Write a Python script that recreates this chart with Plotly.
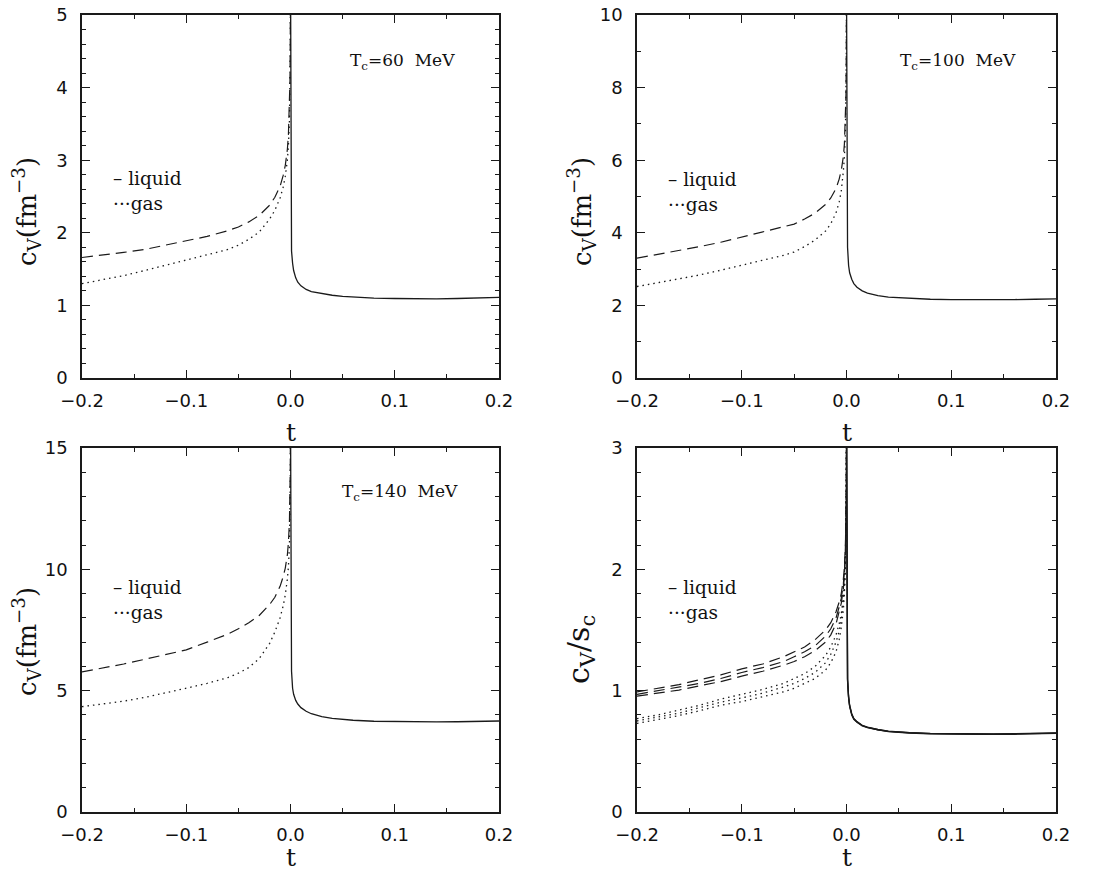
import plotly.graph_objects as go
from plotly.subplots import make_subplots

# reduced temperature grids (below and above T_c)
T_BELOW = [-0.2, -0.18, -0.16, -0.14, -0.12, -0.1, -0.08, -0.06, -0.05, -0.04, -0.03,
           -0.02, -0.015, -0.01, -0.007, -0.005, -0.003, -0.002, -0.001, -0.0005,
           -0.0002, -0.00005]
T_ABOVE = [0.00005, 0.0002, 0.0005, 0.001, 0.002, 0.003, 0.005, 0.007, 0.01, 0.015,
           0.02, 0.03, 0.04, 0.05, 0.06, 0.08, 0.1, 0.12, 0.14, 0.16, 0.18, 0.2]

# T_c = 60 MeV
LIQ_60 = [1.66, 1.69, 1.73, 1.77, 1.83, 1.89, 1.95, 2.03, 2.08, 2.15, 2.24,
          2.38, 2.49, 2.64, 2.79, 2.93, 3.15, 3.35, 3.7, 4.1, 4.7, 5.6]
GAS_60 = [1.30, 1.35, 1.41, 1.48, 1.55, 1.62, 1.69, 1.77, 1.83, 1.91, 2.01,
          2.19, 2.31, 2.48, 2.63, 2.78, 3.0, 3.2, 3.55, 3.95, 4.6, 5.5]
HOT_60 = [5.5, 3.2, 2.3, 1.75, 1.58, 1.48, 1.38, 1.32, 1.27, 1.22,
          1.19, 1.16, 1.14, 1.125, 1.115, 1.10, 1.095, 1.09, 1.09, 1.095, 1.10, 1.11]

# T_c = 100 MeV
LIQ_100 = [3.30, 3.40, 3.51, 3.62, 3.74, 3.88, 4.02, 4.16, 4.24, 4.38, 4.54,
           4.78, 4.96, 5.22, 5.48, 5.72, 6.1, 6.45, 7.1, 7.8, 8.9, 10.5]
GAS_100 = [2.52, 2.62, 2.72, 2.84, 2.97, 3.10, 3.25, 3.38, 3.47, 3.62, 3.80,
           4.05, 4.25, 4.55, 4.85, 5.15, 5.7, 6.1, 6.8, 7.6, 8.8, 10.5]
HOT_100 = [10.5, 6.5, 4.6, 3.6, 3.1, 2.9, 2.72, 2.6, 2.5, 2.4,
           2.34, 2.27, 2.23, 2.21, 2.19, 2.17, 2.16, 2.155, 2.155, 2.16, 2.17, 2.18]

# T_c = 140 MeV
LIQ_140 = [5.77, 5.93, 6.10, 6.29, 6.48, 6.68, 7.0, 7.33, 7.55, 7.80, 8.1,
           8.55, 8.85, 9.3, 9.7, 10.05, 10.6, 11.1, 12.0, 12.9, 14.2, 16.0]
GAS_140 = [4.34, 4.45, 4.57, 4.72, 4.90, 5.10, 5.30, 5.54, 5.72, 5.95, 6.32,
           6.95, 7.42, 8.0, 8.5, 8.95, 9.6, 10.1, 11.0, 12.0, 13.6, 16.0]
HOT_140 = [16.0, 10.0, 7.0, 5.8, 5.1, 4.85, 4.6, 4.45, 4.3, 4.15,
           4.05, 3.93, 3.86, 3.81, 3.78, 3.74, 3.72, 3.71, 3.71, 3.72, 3.73, 3.75]

# scaled by the entropy density at T_c, one curve per T_c
LIQ_SCALED = [
    [0.99, 1.02, 1.05, 1.09, 1.13, 1.18, 1.22, 1.28, 1.32, 1.36, 1.42,
     1.50, 1.56, 1.65, 1.73, 1.80, 1.92, 2.02, 2.2, 2.4, 2.7, 3.2],
    [0.97, 1.0, 1.03, 1.06, 1.10, 1.15, 1.19, 1.24, 1.28, 1.32, 1.37,
     1.45, 1.51, 1.60, 1.69, 1.76, 1.88, 1.98, 2.17, 2.37, 2.68, 3.2],
    [0.955, 0.98, 1.005, 1.04, 1.075, 1.12, 1.16, 1.21, 1.24, 1.28, 1.33,
     1.40, 1.46, 1.55, 1.64, 1.72, 1.84, 1.95, 2.14, 2.34, 2.65, 3.2],
]
GAS_SCALED = [
    [0.77, 0.80, 0.84, 0.88, 0.93, 0.97, 1.01, 1.06, 1.10, 1.14, 1.20,
     1.29, 1.36, 1.46, 1.55, 1.63, 1.77, 1.88, 2.08, 2.3, 2.65, 3.2],
    [0.75, 0.78, 0.815, 0.86, 0.905, 0.94, 0.98, 1.03, 1.06, 1.10, 1.15,
     1.23, 1.30, 1.40, 1.49, 1.58, 1.72, 1.84, 2.05, 2.28, 2.62, 3.2],
    [0.73, 0.76, 0.795, 0.835, 0.88, 0.91, 0.95, 0.99, 1.02, 1.06, 1.10,
     1.17, 1.23, 1.32, 1.42, 1.52, 1.67, 1.80, 2.02, 2.25, 2.6, 3.2],
]
HOT_SCALED = [
    [3.2, 1.9, 1.35, 1.1, 0.95, 0.88, 0.81, 0.77, 0.745, 0.715,
     0.70, 0.68, 0.667, 0.66, 0.655, 0.648, 0.645, 0.643, 0.643, 0.645, 0.648, 0.652],
    [3.2, 1.88, 1.34, 1.09, 0.945, 0.875, 0.805, 0.767, 0.742, 0.713,
     0.698, 0.678, 0.665, 0.658, 0.653, 0.646, 0.643, 0.641, 0.641, 0.643, 0.646, 0.650],
    [3.2, 1.86, 1.33, 1.08, 0.94, 0.87, 0.80, 0.764, 0.74, 0.71,
     0.696, 0.676, 0.663, 0.656, 0.651, 0.644, 0.641, 0.639, 0.639, 0.641, 0.644, 0.648],
]

PANELS = [
    # (row, col, liquid list, gas list, above-Tc list, y max, major, minor)
    (1, 1, [LIQ_60], [GAS_60], [HOT_60], 5, 1, 0.2),
    (1, 2, [LIQ_100], [GAS_100], [HOT_100], 10, 2, 1),
    (2, 1, [LIQ_140], [GAS_140], [HOT_140], 15, 5, 1),
    (2, 2, LIQ_SCALED, GAS_SCALED, HOT_SCALED, 3, 1, 0.2),
]

W, H = 1108, 873
INK = "#1a1a1a"
SERIF = "DejaVu Serif"
SANS = "DejaVu Sans"

X_DOM = {1: (82 / W, 499 / W), 2: (637 / W, 1056 / W)}
Y_DOM = {1: (1 - 378 / H, 1 - 15 / H), 2: (1 - 812 / H, 1 - 448 / H)}

fig = make_subplots(rows=2, cols=2)

for row, col, liqs, gases, hots, ymax, major, minor in PANELS:
    for ys in liqs:
        fig.add_trace(go.Scatter(x=T_BELOW, y=ys, mode="lines",
                                 line=dict(color=INK, width=1.2, dash="11px,6px")),
                      row=row, col=col)
    for ys in gases:
        fig.add_trace(go.Scatter(x=T_BELOW, y=ys, mode="lines",
                                 line=dict(color=INK, width=1.3, dash="1.5px,4px")),
                      row=row, col=col)
    for ys in hots:
        fig.add_trace(go.Scatter(x=T_ABOVE, y=ys, mode="lines",
                                 line=dict(color=INK, width=1.3)),
                      row=row, col=col)

    common = dict(showline=True, linecolor=INK, linewidth=1.5, mirror="allticks",
                  ticks="inside", ticklen=8, tickwidth=1.2, tickcolor=INK,
                  showgrid=False, zeroline=False, automargin=False,
                  tickfont=dict(family=SANS, size=18, color="#111"))
    fig.update_xaxes(range=[-0.2, 0.2], dtick=0.1, tick0=-0.2, tickformat=".1f",
                     minor=dict(dtick=0.05, ticks="inside", ticklen=4,
                                tickcolor=INK, tickwidth=1.2, showgrid=False),
                     domain=X_DOM[col], ticklabelstandoff=6,
                     row=row, col=col, **common)
    fig.update_yaxes(range=[0, ymax], dtick=major, tick0=0,
                     minor=dict(dtick=minor, ticks="inside", ticklen=4,
                                tickcolor=INK, tickwidth=1.2, showgrid=False),
                     domain=Y_DOM[row], ticklabelstandoff=9,
                     row=row, col=col, **common)


def px(x, y):
    return x / W, 1 - y / H


annotations = []
GAP = "\u00a0\u00a0"

# temperature labels
for (x, y), label in [((348, 62), f"T<sub>c</sub>=60{GAP}MeV"),
                      ((898, 62), f"T<sub>c</sub>=100{GAP}MeV"),
                      ((340, 492), f"T<sub>c</sub>=140{GAP}MeV")]:
    ax, ay = px(x, y)
    annotations.append(dict(x=ax, y=ay, xref="paper", yref="paper", text=label,
                            showarrow=False, xanchor="left", yanchor="middle",
                            font=dict(family=SERIF, size=17, color="#111")))

# line-style keys
for (x, y1, y2) in [(111, 179, 203), (666, 180, 204), (111, 587, 612), (666, 587, 612)]:
    for yy, txt in [(y1, "– liquid"), (y2, "···gas")]:
        ax, ay = px(x, yy)
        annotations.append(dict(x=ax, y=ay, xref="paper", yref="paper", text=txt,
                                showarrow=False, xanchor="left", yanchor="middle",
                                font=dict(family=SERIF, size=18.5, color="#111")))

# horizontal axis titles
for cx in (290.5, 846.5):
    ax, ay = px(cx, 432)
    annotations.append(dict(x=ax, y=ay, xref="paper", yref="paper", text="t",
                            showarrow=False, xanchor="center", yanchor="middle",
                            font=dict(family=SERIF, size=25, color="#111")))
    annotations.append(dict(x=ax, y=0, xref="paper", yref="paper", text="t",
                            showarrow=False, xanchor="center", yanchor="bottom",
                            borderpad=0,
                            font=dict(family=SERIF, size=25, color="#111")))

# vertical axis titles
for (cx, cy), txt, size in [((26, 212), "c<sub>V</sub>(fm<sup>−3</sup>)", 26),
                            ((581, 212), "c<sub>V</sub>(fm<sup>−3</sup>)", 26),
                            ((26, 642), "c<sub>V</sub>(fm<sup>−3</sup>)", 26),
                            ((580, 650), "c<sub>V</sub>/s<sub>c</sub>", 30)]:
    ax, ay = px(cx, cy)
    annotations.append(dict(x=ax, y=ay, xref="paper", yref="paper", text=txt,
                            showarrow=False, xanchor="center", yanchor="middle",
                            textangle=-90,
                            font=dict(family=SERIF, size=size, color="#111")))

fig.update_layout(template="none", width=W, height=H,
                  margin=dict(l=0, r=0, t=0, b=0, autoexpand=False),
                  paper_bgcolor="white", plot_bgcolor="white",
                  showlegend=False, annotations=annotations)

fig.write_html("out.html")
